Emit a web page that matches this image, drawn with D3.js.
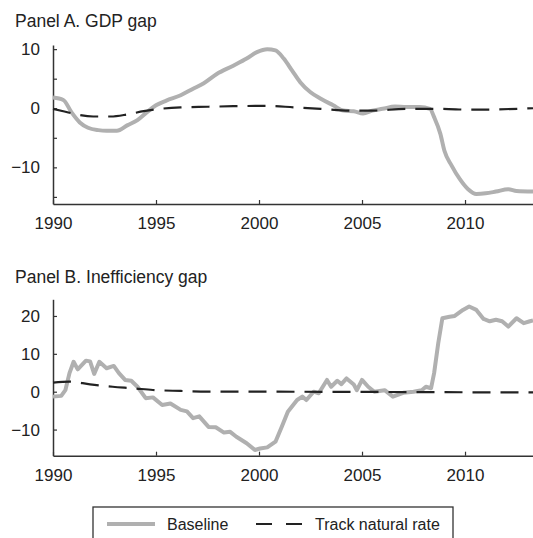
<!DOCTYPE html>
<html>
<head>
<meta charset="utf-8">
<script src="https://cdn.jsdelivr.net/npm/d3@7"></script>
<style>
  body { margin: 0; background: #fff; }
  text { font-family: "Liberation Sans", Arial, sans-serif; fill: #222; }
</style>
</head>
<body>
<div id="chart"></div>
<script>
const width = 533,
    height = 538;

// Panel A: GDP gap, [year, value]
const gdpBaseline = [
  [1990, 1.8], [1990.5, 1.4], [1990.9, -0.7], [1991.3, -2.4], [1991.7, -3.3], [1992.2, -3.7],
  [1992.6, -3.8], [1993.1, -3.8], [1993.6, -2.9], [1994.1, -2.0], [1994.55, -0.7], [1995.0, 0.5],
  [1995.5, 1.3], [1996.2, 2.2], [1996.8, 3.3], [1997.3, 4.2], [1997.95, 5.8], [1998.75, 7.2],
  [1999.4, 8.4], [1999.9, 9.5], [2000.4, 10.0], [2000.8, 9.8], [2001.2, 8.4], [2001.6, 6.4],
  [2002.0, 4.4], [2002.5, 2.7], [2003.0, 1.6], [2003.6, 0.5], [2004.1, -0.4], [2004.6, -0.5],
  [2005.05, -0.9], [2005.5, -0.4], [2006.0, -0.1], [2006.6, 0.3], [2007.15, 0.2], [2007.8, 0.2],
  [2008.3, -0.1], [2008.5, -1.5], [2008.8, -4.3], [2009.0, -7.2], [2009.35, -9.7], [2009.75, -12.0],
  [2010.15, -13.7], [2010.55, -14.5], [2011.0, -14.4], [2011.5, -14.1], [2012.1, -13.7],
  [2012.5, -14.0], [2013.3, -14.1]
];
const gdpNatural = [
  [1990, -0.1], [1990.5, -0.5], [1991.15, -1.05], [1991.95, -1.4], [1992.8, -1.4], [1993.6, -1.05],
  [1994.4, -0.5], [1995.2, -0.1], [1996.2, 0.15], [1997.5, 0.25], [1998.75, 0.35], [2000.4, 0.4],
  [2001.7, 0.15], [2003.0, -0.1], [2004.4, -0.4], [2005.5, -0.4], [2007.15, -0.1], [2008.8, -0.1],
  [2010.3, -0.25], [2013.3, 0.0]
];

// Panel B: Inefficiency gap, [year, value]
const ineffBaseline = [
  [1990, -1.3], [1990.4, -1.1], [1990.6, 0.4], [1990.8, 4.9], [1991.0, 7.9], [1991.2, 5.9],
  [1991.6, 8.2], [1991.8, 8.0], [1992.0, 4.7], [1992.25, 7.9], [1992.6, 6.2], [1992.95, 6.8],
  [1993.2, 4.9], [1993.5, 3.1], [1993.8, 2.9], [1994.1, 1.3], [1994.5, -1.7], [1994.85, -1.5],
  [1995.3, -3.5], [1995.7, -3.1], [1996.2, -4.8], [1996.5, -5.2], [1996.8, -7.0], [1997.1, -6.5],
  [1997.55, -9.3], [1997.9, -9.4], [1998.3, -10.8], [1998.6, -10.6], [1998.9, -11.9], [1999.4, -13.6],
  [1999.8, -15.4], [2000.05, -15.0], [2000.4, -14.7], [2000.8, -13.2], [2001.1, -9.3], [2001.4, -5.3],
  [2001.85, -2.2], [2002.1, -1.3], [2002.3, -2.2], [2002.65, 0.0], [2002.9, -0.4], [2003.3, 3.1],
  [2003.5, 1.3], [2003.8, 2.9], [2004.0, 2.0], [2004.25, 3.5], [2004.6, 1.9], [2004.75, 0.4],
  [2005.0, 3.1], [2005.3, 1.3], [2005.6, 0.0], [2006.1, 0.4], [2006.5, -1.3], [2007.0, -0.3],
  [2007.5, 0.0], [2007.9, 0.4], [2008.1, 1.3], [2008.35, 0.9], [2008.5, 4.9], [2008.7, 12.8],
  [2008.9, 19.4], [2009.25, 19.8], [2009.5, 20.0], [2009.9, 21.6], [2010.2, 22.5], [2010.55, 21.6],
  [2010.9, 19.2], [2011.2, 18.6], [2011.5, 19.0], [2011.8, 18.6], [2012.1, 17.2], [2012.5, 19.4],
  [2012.85, 18.1], [2013.15, 18.6], [2013.3, 18.8]
];
const ineffNatural = [
  [1990, 2.4], [1990.8, 2.65], [1991.8, 1.95], [1992.9, 1.3], [1993.9, 0.9], [1994.85, 0.45],
  [1996.2, 0.2], [1997.5, 0.0], [2000, 0.0], [2005, -0.05], [2010, -0.15], [2013.3, -0.2]
];

const yearTicks = [1990, 1995, 2000, 2005, 2010];
const panelATicks = [10, 5, 0, -5, -10, -15];
const panelALabels = [10, 0, -10];
const panelBTicks = [20, 10, 0, -10];
const legendLabels = ["Baseline", "Track natural rate"];

const svg = d3.select("#chart").append("svg")
  .attr("width", width)
  .attr("height", height);

const x = d3.scaleLinear().domain([1990, 2013.3]).range([53, 533]);

function drawPanel(title, titleY, yDomain, yRange, ticks, labels, baseline, natural, baseCurve) {
  const y = d3.scaleLinear().domain(yDomain).range(yRange);
  const g = svg.append("g");

  g.append("text")
    .attr("x", 15)
    .attr("y", titleY)
    .style("font-size", "17.5px")
    .text(title);

  const xAxis = g.append("g")
    .attr("transform", `translate(0,${yRange[0]})`)
    .call(d3.axisBottom(x).tickValues(yearTicks).tickFormat(d3.format("d"))
      .tickSizeInner(-4).tickSizeOuter(0).tickPadding(13));

  const yAxis = g.append("g")
    .attr("transform", `translate(${x.range()[0]},0)`)
    .call(d3.axisLeft(y).tickValues(ticks)
      .tickFormat(d => labels.includes(d) ? d3.format("d")(d) : "")
      .tickSizeInner(-4).tickSizeOuter(0).tickPadding(13));

  [xAxis, yAxis].forEach(a => {
    a.select(".domain").attr("stroke", "#333").attr("stroke-width", 1.5);
    a.selectAll(".tick line").attr("stroke", "#333").attr("stroke-width", 1.2);
    a.selectAll(".tick text").style("font-size", "17px").attr("fill", "#222");
  });

  const smooth = d3.line().x(d => x(d[0])).y(d => y(d[1])).curve(d3.curveMonotoneX);
  const baseLine = d3.line().x(d => x(d[0])).y(d => y(d[1])).curve(baseCurve);

  g.append("path")
    .datum(baseline)
    .attr("fill", "none")
    .attr("stroke", "#b0b0b0")
    .attr("stroke-width", 4)
    .attr("stroke-linejoin", "round")
    .attr("d", baseLine);

  g.append("path")
    .datum(natural)
    .attr("fill", "none")
    .attr("stroke", "#222")
    .attr("stroke-width", 2.2)
    .attr("stroke-dasharray", "18,10")
    .attr("d", smooth);
}

drawPanel("Panel A. GDP gap", 27, [-16.2, 10.7], [204, 45],
  panelATicks, panelALabels, gdpBaseline, gdpNatural, d3.curveMonotoneX);
drawPanel("Panel B. Inefficiency gap", 283, [-16.9, 24.4], [455.7, 299.3],
  panelBTicks, panelBTicks, ineffBaseline, ineffNatural, d3.curveLinear);

// legend
const legend = svg.append("g");
legend.append("rect")
  .attr("x", 93).attr("y", 507)
  .attr("width", 360).attr("height", 50)
  .attr("fill", "none")
  .attr("stroke", "#333")
  .attr("stroke-width", 1.3);

legend.append("line")
  .attr("x1", 107).attr("x2", 155).attr("y1", 524).attr("y2", 524)
  .attr("stroke", "#b0b0b0").attr("stroke-width", 4);
legend.append("text")
  .attr("x", 167).attr("y", 530)
  .style("font-size", "16px")
  .text(legendLabels[0]);

legend.append("line")
  .attr("x1", 256).attr("x2", 302).attr("y1", 524).attr("y2", 524)
  .attr("stroke", "#222").attr("stroke-width", 2.2)
  .attr("stroke-dasharray", "16,14");
legend.append("text")
  .attr("x", 315).attr("y", 530)
  .style("font-size", "16px")
  .text(legendLabels[1]);
</script>
</body>
</html>
